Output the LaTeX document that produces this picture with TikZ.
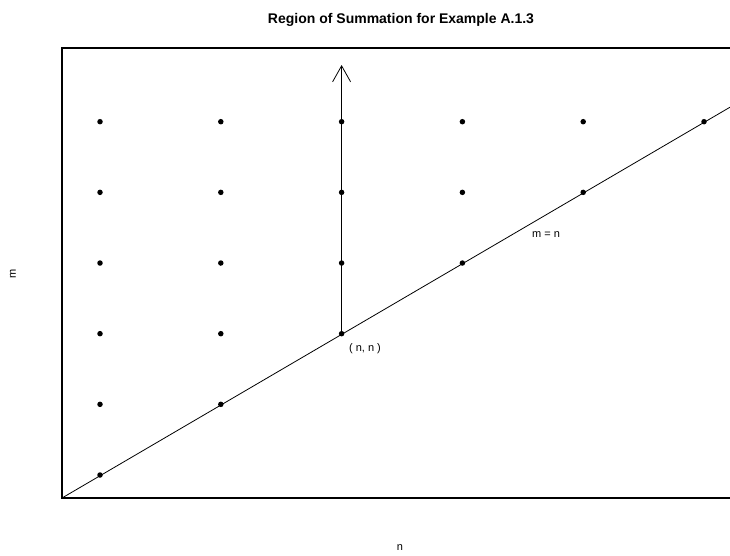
\documentclass[tikz,border=0pt]{standalone}
\usepackage{fontspec}
\setmainfont{Liberation Sans}
\usetikzlibrary{arrows.meta}
\begin{document}
\begin{tikzpicture}[x=1pt,y=-1pt,
  dot/.style={circle,fill=black,inner sep=0pt,minimum size=5.5pt},
  lab/.style={font=\fontsize{11}{13}\selectfont,inner sep=0pt},
  ttl/.style={font=\fontsize{14}{16}\selectfont\bfseries,inner sep=0pt},
  frame/.style={line width=1.1pt},
  thin/.style={line width=0.8pt}]
\useasboundingbox (0,0) rectangle (730,555);
\begin{scope}
\clip (0,0) rectangle (730,555);
% frame
\draw[frame] (730,48) -- (62,48) -- (62,498) -- (730,498);
% dots
\foreach \m in {1,...,6}{
  \foreach \n in {1,...,\m}{
    \node[dot] (p\n\m) at ({100+120.8*(\n-1)},{475-70.66*(\m-1)}) {};
  }
}
\coordinate (c0) at (62,498);
\coordinate (c1) at (730,107.2);
\coordinate (top) at (341.6,65);
\draw[thin] (c0) -- (c1);
\draw[thin,-{Straight Barb[length=16pt,width=18pt]}] (p33.center) -- (top);
\end{scope}
\node[ttl] (title) at (401,20) {Region of Summation for Example A.1.3};
\node[lab] (nn) at (365,349) {( n, n )};
\node[lab] (mn) at (546,235) {m = n};
\node[lab,rotate=90] (ylab) at (13,274) {m};
\node[lab,anchor=north] (xlab) at (400,544) {n};
\end{tikzpicture}
\end{document}
